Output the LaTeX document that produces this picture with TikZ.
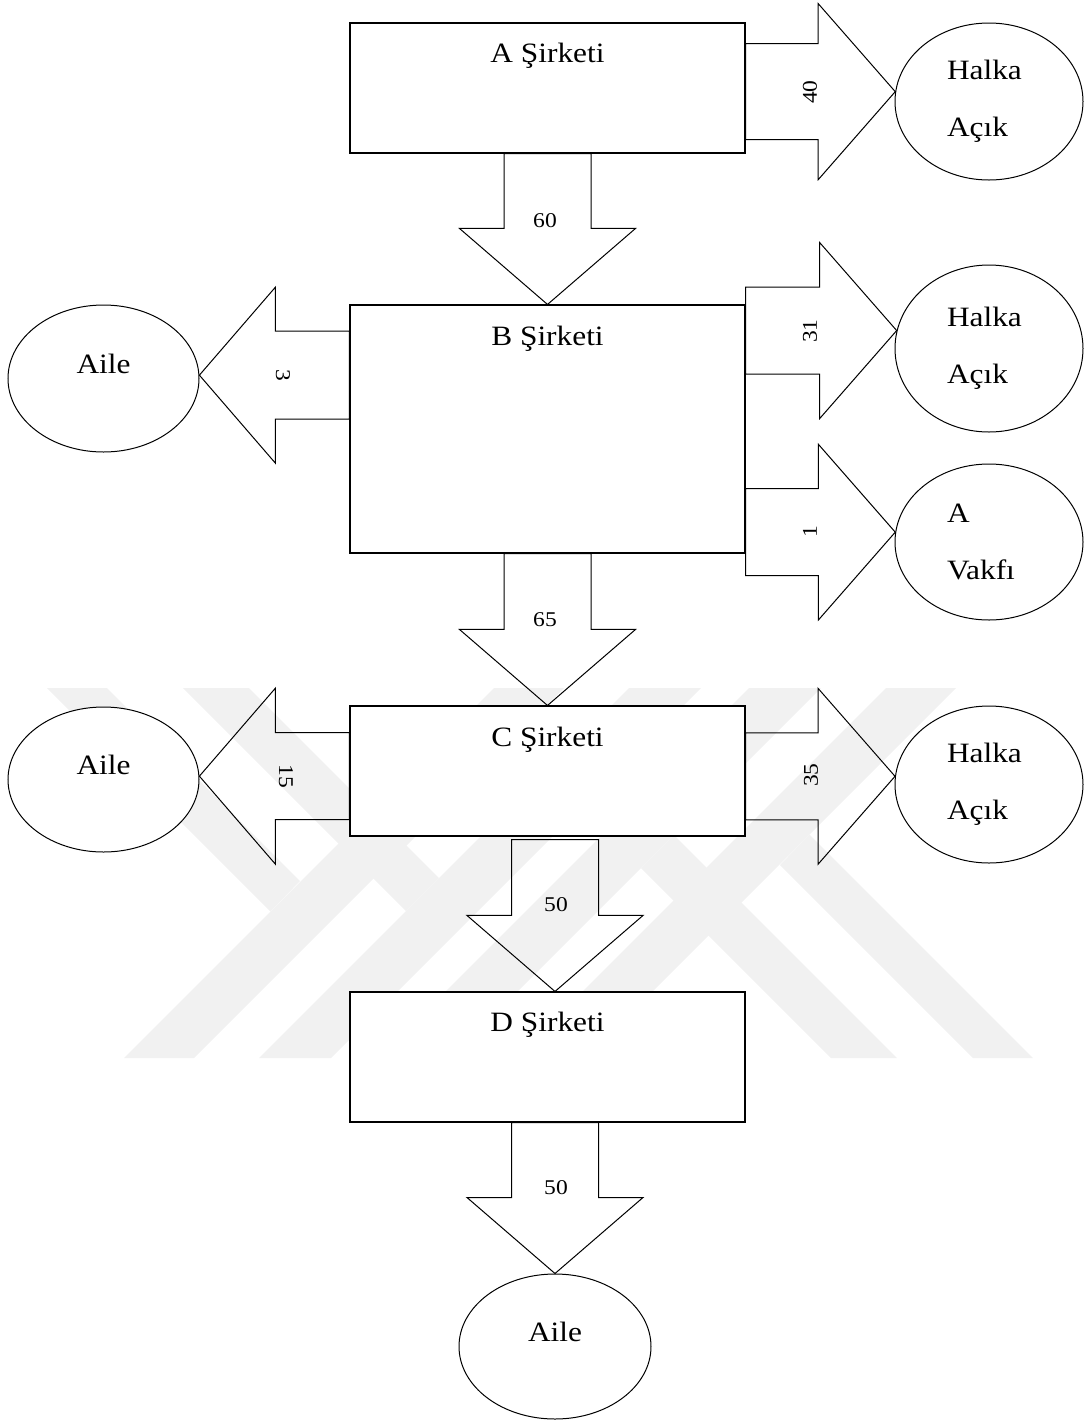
\documentclass[tikz,border=0pt]{standalone}
\usepackage{fontspec}
\setmainfont{Liberation Serif}[FakeStretch=1.12]
\usetikzlibrary{calc}
\usetikzlibrary{shapes.geometric}

% kalin asagi ok: #1 govde basi, #2 uc
\newcommand{\dikok}[2]{%
  \draw[kalin] ($(#1)+(-43.5,0)$) -- ($(#2)+(-43.5,-76)$) -- ($(#2)+(-88,-76)$)
    -- (#2) -- ($(#2)+(88,-76)$) -- ($(#2)+(43.5,-76)$) -- ($(#1)+(43.5,0)$) -- cycle;}
% kalin yatay ok: #1 govde basi, #2 uc, #3 bas boyu (isaretli), #4 govde yari eni
\newcommand{\yanok}[4]{%
  \draw[kalin] ($(#1)+(0,-#4)$) -- ($(#2)+(#3,-#4)$) -- ($(#2)+(#3,-88)$)
    -- (#2) -- ($(#2)+(#3,88)$) -- ($(#2)+(#3,#4)$) -- ($(#1)+(0,#4)$) -- cycle;}

\begin{document}
\begin{tikzpicture}[x=0.5pt, y=-0.5pt,
  firma/.style={draw, fill=white, line width=0.55pt, minimum width=197.5pt, inner sep=0pt},
  dis/.style={ellipse, draw, fill=white, line width=0.5pt, inner sep=0pt, align=left,
    font=\fontsize{14}{28.5}\selectfont},
  halka/.style={dis, text width=42pt},
  aile/.style={dis, text depth=15pt},
  baslik/.style={anchor=base, inner sep=0pt, font=\fontsize{14}{17}\selectfont},
  sayi/.style={inner sep=0pt, font=\fontsize{10.5}{12}\selectfont},
  kalin/.style={line width=0.5pt},
  filigran/.style={fill=gray!11}]
  \useasboundingbox (0,0) rectangle (1084,1425);

  % filigran
  \fill[filigran] (47,688) -- (107,688) -- (300,881) -- (270.5,911.5) -- cycle;
  \fill[filigran] (124,1058) -- (194,1058) -- (564,688) -- (494,688) -- cycle;
  \fill[filigran] (183,688) -- (249,688) -- (439,878) -- (406,911) -- cycle;
  \fill[filigran] (259,1058) -- (331,1058) -- (701,688) -- (629,688) -- cycle;
  \fill[filigran] (956,688) -- (886,688) -- (516,1058) -- (586,1058) -- cycle;
  \fill[filigran] (1033,1058) -- (973,1058) -- (780,865) -- (809.5,834.5) -- cycle;
  \fill[filigran] (821,688) -- (749,688) -- (379,1058) -- (451,1058) -- cycle;
  \fill[filigran] (897,1058) -- (831,1058) -- (641,868) -- (674,835) -- cycle;

  % sirketler
  \node[firma, minimum height=65pt] (A) at (547.5,88) {};
  \node[firma, minimum height=124pt] (B) at (547.5,429) {};
  \node[firma, minimum height=65pt] (C) at (547.5,771) {};
  \node[firma, minimum height=65pt] (D) at (547.5,1057) {};
  \node[baslik] (At) at ($(A.north)+(0,40.5)$) {A Şirketi};
  \node[baslik] (Bt) at ($(B.north)+(0,41)$) {B Şirketi};
  \node[baslik] (Ct) at ($(C.north)+(0,41)$) {C Şirketi};
  \node[baslik] (Dt) at ($(D.north)+(0,40)$) {D Şirketi};

  % ortaklar
  \node[halka, minimum width=94pt, minimum height=78.5pt] (HA) at (989,101.5) {Halka\\Açık};
  \node[halka, minimum width=94pt, minimum height=83.5pt] (HB) at (989,348.5) {Halka\\Açık};
  \node[halka, minimum width=94pt, minimum height=78pt] (VA) at (989,542) {A\\Vakfı};
  \node[halka, minimum width=94pt, minimum height=78.5pt] (HC) at (989,784.5) {Halka\\Açık};
  \node[aile, minimum width=95.5pt, minimum height=73.5pt] (AB) at (103.5,378.5) {Aile};
  \node[aile, minimum width=95.5pt, minimum height=72.5pt] (AC) at (103.5,779.5) {Aile};
  \node[aile, minimum width=96pt, minimum height=72.5pt] (AD) at (555,1346.5) {Aile};

  % paylar
  \coordinate (ha) at (A.east |- HA.174);
  \yanok{ha}{HA.174}{-77}{48}
  \coordinate (ab) at (B.west |- AB.2);
  \yanok{ab}{AB.2}{76}{44}
  \coordinate (hb) at (B.east |- HB.169);
  \yanok{hb}{HB.169}{-77}{43.5}
  \coordinate (va) at (B.east |- VA.174);
  \yanok{va}{VA.174}{-77}{43.5}
  \coordinate (ac) at (C.west |- AC.2);
  \yanok{ac}{AC.2}{76}{43.5}
  \coordinate (hc) at (C.east |- HC.175);
  \yanok{hc}{HC.175}{-77}{43.5}
  \dikok{A.south}{B.north}
  \dikok{B.south}{C.north}
  \coordinate (cd) at ($(C.south -| AD.north)+(0,3)$);
  \coordinate (dc) at (D.north -| AD.north);
  \dikok{cd}{dc}
  \coordinate (da) at (D.south -| AD.north);
  \dikok{da}{AD.north}

  \node[sayi] (n60) at (545,221) {60};
  \node[sayi, rotate=90] (n40) at (810,92) {40};
  \node[sayi, rotate=-90] (n3) at (283,375) {3};
  \node[sayi, rotate=90] (n31) at (810,331) {31};
  \node[sayi, rotate=90] (n1) at (810,532) {1};
  \node[sayi] (n65) at (545,620) {65};
  \node[sayi, rotate=-90] (n15) at (286,776) {15};
  \node[sayi, rotate=90] (n35) at (811,775) {35};
  \node[sayi] (n50a) at (556,905) {50};
  \node[sayi] (n50b) at (556,1188) {50};
\end{tikzpicture}
\end{document}
